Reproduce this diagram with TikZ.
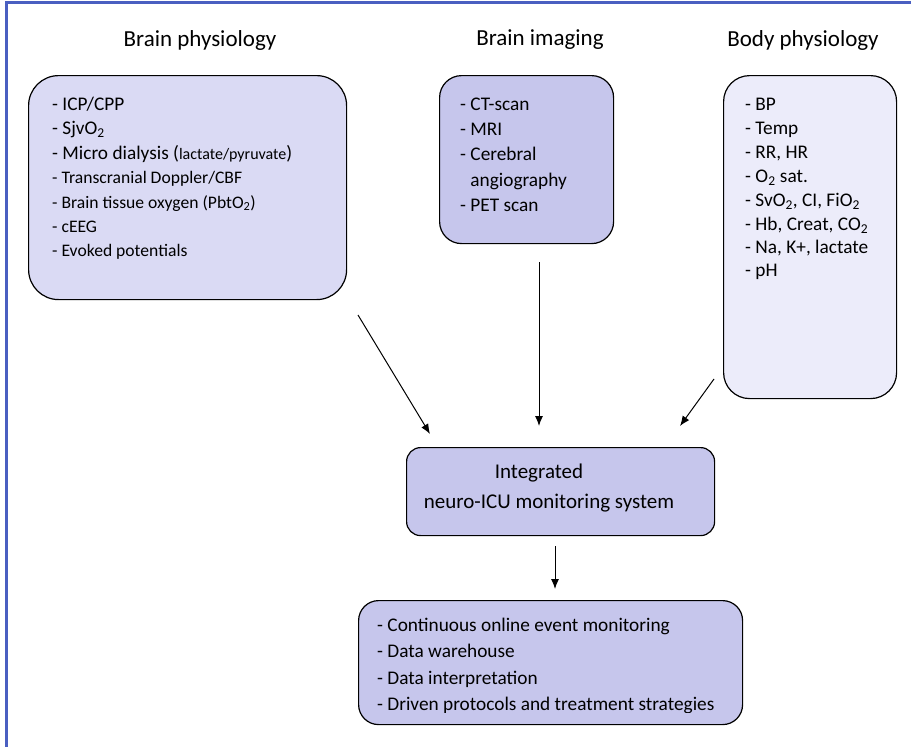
\documentclass[tikz,border=0pt]{standalone}
\usepackage{fontspec}
\setmainfont{Carlito}
\usetikzlibrary{arrows.meta}
\definecolor{framebl}{HTML}{4A5FC1}
\definecolor{boxdark}{HTML}{C6C6EC}
\definecolor{boxmid}{HTML}{DADAF4}
\definecolor{boxlight}{HTML}{ECECFA}
\tikzset{
  panel/.style={draw=black, line width=1.2pt, anchor=north west, inner sep=0pt},
  heading/.style={font=\fontsize{23}{27}\selectfont, inner sep=0pt},
  item/.style={anchor=base west, inner sep=0pt, font=\fontsize{17.6}{21}\selectfont},
  bigitem/.style={anchor=base west, inner sep=0pt, font=\fontsize{19.3}{23}\selectfont},
  flow/.style={line width=1pt, -{Latex[length=10pt,width=8pt]}},
}
\begin{document}
\begin{tikzpicture}[x=1pt,y=-1pt]
\useasboundingbox (0,0) rectangle (911,747);
\fill[white] (0,0) rectangle (911,747);
% outer frame (top and left edges)
\draw[framebl, line width=3pt] (6,747) -- (6,2) -- (911,2);

% headings
\node[heading] (h-brain) at (200,40) {Brain physiology};
\node[heading] (h-img) at (540,40) {Brain imaging};
\node[heading] (h-body) at (803,40) {Body physiology};

% panels
\node[panel, fill=boxmid, rounded corners=30pt, minimum width=318pt, minimum height=224pt] (brain) at (28,75) {};
\node[panel, fill=boxdark, rounded corners=22pt, minimum width=174pt, minimum height=168pt] (img) at (439,75) {};
\node[panel, fill=boxlight, rounded corners=26pt, minimum width=173pt, minimum height=323pt] (body) at (723,75) {};
\node[panel, fill=boxdark, rounded corners=14pt, minimum width=308pt, minimum height=88pt] (integ) at (406,447) {};
\node[panel, fill=boxdark, rounded corners=20pt, minimum width=384pt, minimum height=124pt] (out) at (358,600) {};

% brain physiology list
\node[bigitem] (b1) at (52,110) {- ICP/CPP};
\node[bigitem] (b2) at (52,134) {- SjvO\textsubscript{2}};
\node[bigitem] (b3) at (52,159) {- Micro dialysis ({\fontsize{16}{19}\selectfont lactate/pyruvate})};
\node[item] (b4) at (52,183) {- Transcranial Doppler/CBF};
\node[item] (b5) at (52,208) {- Brain tissue oxygen (PbtO\textsubscript{2})};
\node[item] (b6) at (52,232) {- cEEG};
\node[item] (b7) at (52,256) {- Evoked potentials};

% imaging list
\node[bigitem] (i1) at (460,110) {- CT-scan};
\node[bigitem] (i2) at (460,135) {- MRI};
\node[bigitem] (i3) at (460,160) {- Cerebral};
\node[bigitem] (i4) at (460,186) {\phantom{- }angiography};
\node[bigitem] (i5) at (460,211) {- PET scan};

% body physiology list
\node[bigitem] (p1) at (745,110) {- BP};
\node[bigitem] (p2) at (745,134) {- Temp};
\node[bigitem] (p3) at (745,158) {- RR, HR};
\node[bigitem] (p4) at (745,182) {- O\textsubscript{2} sat.};
\node[bigitem] (p5) at (745,206) {- SvO\textsubscript{2}, CI, FiO\textsubscript{2}};
\node[bigitem] (p6) at (745,230) {- Hb, Creat, CO\textsubscript{2}};
\node[bigitem] (p7) at (745,253) {- Na, K+, lactate};
\node[bigitem] (p8) at (745,276) {- pH};

% integrated system
\node[font=\fontsize{21}{25}\selectfont, anchor=base, inner sep=0pt] (t1) at (539,478) {Integrated};
\node[font=\fontsize{21}{25}\selectfont, anchor=base, inner sep=0pt] (t2) at (549,508) {neuro-ICU monitoring system};

% outputs (last line cut by the panel's lower padding)
\begin{scope}
\clip (358,600) rectangle (742,712);
\node[bigitem] (o1) at (377,631) {- Continuous online event monitoring};
\node[bigitem] (o2) at (377,657) {- Data warehouse};
\node[bigitem] (o3) at (377,684) {- Data interpretation};
\node[bigitem] (o4) at (377,710) {- Driven protocols and treatment strategies};
\end{scope}

% connectors
\coordinate (a1s) at (358,315);
\coordinate (a1e) at (430,434);
\coordinate (a2s) at (539,262);
\coordinate (a2e) at (539,426);
\coordinate (a3s) at (714,379);
\coordinate (a3e) at (680,426);
\coordinate (a4s) at (555,546);
\coordinate (a4e) at (555,589);
\draw[flow] (a1s) -- (a1e);
\draw[flow] (a2s) -- (a2e);
\draw[flow] (a3s) -- (a3e);
\draw[flow] (a4s) -- (a4e);
\end{tikzpicture}
\end{document}
